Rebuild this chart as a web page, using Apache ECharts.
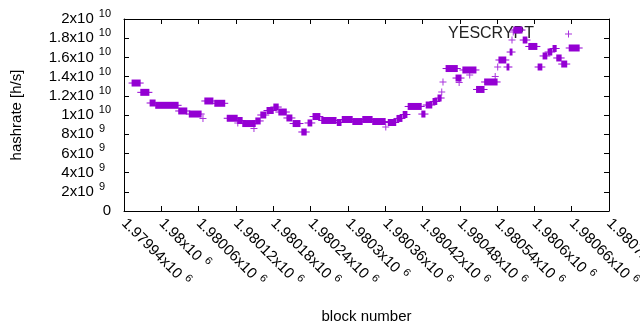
<!DOCTYPE html>
<html>
<head>
<meta charset="utf-8">
<script src="https://cdn.jsdelivr.net/npm/echarts@6/dist/echarts.min.js"></script>
<style>
  html, body { margin: 0; padding: 0; background: #fff; }
  #chart { width: 640px; height: 330px; }
</style>
</head>
<body>
<div id="chart"></div>
<script>
// tick labels (mantissa ^ exponent)
const xTickLabels = ['1.97994x10^6', '1.98x10^6', '1.98006x10^6', '1.98012x10^6', '1.98018x10^6',
  '1.98024x10^6', '1.9803x10^6', '1.98036x10^6', '1.98042x10^6', '1.98048x10^6',
  '1.98054x10^6', '1.9806x10^6', '1.98066x10^6', '1.98072x10^6']
const yTickLabels = ['0', '2x10^9', '4x10^9', '6x10^9', '8x10^9', '1x10^10',
  '1.2x10^10', '1.4x10^10', '1.6x10^10', '1.8x10^10', '2x10^10']

const seriesName = 'YESCRYPT'

// runs of consecutive blocks with the same hashrate
const runStart = [1979953, 1979967, 1979982, 1979991, 1980028, 1980045, 1980070, 1980086, 1980106, 1980123,
  1980131, 1980152, 1980160, 1980170, 1980181, 1980189, 1980202, 1980212, 1980226, 1980236,
  1980244, 1980258, 1980283, 1980291, 1980308, 1980324, 1980340, 1980365, 1980379, 1980389,
  1980397, 1980419, 1980426, 1980437, 1980445, 1980458, 1980474, 1980485, 1980507, 1980520,
  1980543, 1980556, 1980561, 1980567, 1980582, 1980591, 1980606, 1980614, 1980622, 1980630,
  1980636, 1980644, 1980656]
const runEnd = [1979966, 1979980, 1979990, 1980027, 1980041, 1980064, 1980083, 1980102, 1980122, 1980130,
  1980151, 1980159, 1980168, 1980180, 1980188, 1980201, 1980210, 1980223, 1980233, 1980242,
  1980255, 1980281, 1980289, 1980307, 1980323, 1980339, 1980360, 1980377, 1980387, 1980395,
  1980418, 1980424, 1980435, 1980443, 1980450, 1980476, 1980482, 1980506, 1980519, 1980540,
  1980554, 1980559, 1980564, 1980580, 1980588, 1980604, 1980612, 1980620, 1980628, 1980635,
  1980643, 1980652, 1980672]
const runHash = [13.33e9, 12.36e9, 11.25e9, 11.01e9, 10.42e9, 10.10e9, 11.46e9, 11.22e9, 9.66e9, 9.43e9,
  9.11e9, 9.38e9, 10.00e9, 10.47e9, 10.83e9, 10.31e9, 9.69e9, 9.11e9, 8.23e9, 9.17e9,
  9.84e9, 9.43e9, 9.22e9, 9.53e9, 9.32e9, 9.53e9, 9.32e9, 9.22e9, 9.64e9, 10.05e9,
  10.89e9, 10.10e9, 11.04e9, 11.41e9, 11.77e9, 14.84e9, 13.85e9, 14.69e9, 12.66e9, 13.44e9,
  15.73e9, 15.00e9, 16.56e9, 18.85e9, 17.81e9, 17.14e9, 15.00e9, 16.15e9, 16.56e9, 16.93e9,
  15.94e9, 15.31e9, 16.98e9]

// isolated blocks
const singleBlock = [1980067, 1980123, 1980149, 1980361, 1980451, 1980453, 1980479, 1980496,
  1980537, 1980541, 1980564, 1980566]
const singleHash = [9.64e9, 9.17e9, 8.59e9, 8.75e9, 12.40e9, 13.44e9, 13.39e9, 14.17e9,
  14.01e9, 15.00e9, 17.81e9, 18.65e9]

const xMin = 1979940, xMax = 1980720, xStep = 60
const yMin = 0, yMax = 2e10, yStep = 2e9

const color = '#9400d3'
const font = 'Liberation Sans'
const plusPath = 'path://M3,0h1v3h3v1h-3v3h-1v-3h-3v-1h3z'

const chart = echarts.init(document.getElementById('chart'))

// mantissa/exponent -> rich text
const richLabel = (txt) => {
  const parts = txt.split('^')
  if (parts.length < 2) return '{m|' + parts[0] + '}'
  const st = parts[1].length === 1 ? 'e1' : 'e'
  return '{m|' + parts[0] + '}{' + st + '|' + parts[1] + '}'
}
const rich = {
  m: { fontSize: 15, fontFamily: font, color: '#000', lineHeight: 21 },
  e: { fontSize: 11, fontFamily: font, color: '#000', lineHeight: 11, verticalAlign: 'top', padding: [0, 0, 0, 5] },
  e1: { fontSize: 11, fontFamily: font, color: '#000', lineHeight: 11, verticalAlign: 'top', padding: [0, 6, 0, 5] }
}

const axisCommon = {
  axisLine: { show: true, onZero: false, lineStyle: { color: '#000', width: 1 } },
  axisTick: { show: true, inside: true, length: 5, lineStyle: { color: '#000' } },
  splitLine: { show: false }
}

const runData = runStart.map((s, i) => [s, runEnd[i], runHash[i]])
const singleData = singleBlock.map((b, i) => [b, singleHash[i]])

const option = {
  animation: false,
  backgroundColor: '#fff',
  color: [color],
  grid: { left: 124, right: 31, top: 19, bottom: 119, containLabel: false, outerBoundsMode: 'none' },
  legend: {
    z: 1,
    right: 63,
    top: 21,
    align: 'right',
    itemWidth: 7,
    itemHeight: 7,
    itemStyle: { color: color },
    data: [{ name: seriesName, icon: plusPath, itemStyle: { color: color } }],
    textStyle: { fontSize: 16, fontFamily: font, color: '#222', padding: [0, 26, 0, 0] }
  },
  xAxis: [{
    type: 'value', min: xMin, max: xMax, interval: xStep,
    ...axisCommon,
    name: 'block number',
    nameLocation: 'middle',
    nameGap: 98,
    nameTextStyle: { fontSize: 15, fontFamily: font, color: '#000' },
    axisLabel: {
      rotate: -45,
      margin: 10,
      hideOverlap: false,
      formatter: (v) => richLabel(xTickLabels[Math.round((v - xMin) / xStep)] || ''),
      rich: rich
    }
  }, {
    type: 'value', min: xMin, max: xMax, interval: xStep, position: 'top',
    ...axisCommon,
    axisLabel: { show: false }
  }],
  yAxis: [{
    type: 'value', min: yMin, max: yMax, interval: yStep,
    ...axisCommon,
    name: 'hashrate [h/s]',
    nameLocation: 'middle',
    nameGap: 100,
    nameRotate: 90,
    nameTextStyle: { fontSize: 15, fontFamily: font, color: '#000' },
    axisLabel: {
      margin: 13,
      formatter: (v) => richLabel(yTickLabels[Math.round((v - yMin) / yStep)] || ''),
      rich: rich
    }
  }, {
    type: 'value', min: yMin, max: yMax, interval: yStep, position: 'right',
    ...axisCommon,
    axisLabel: { show: false }
  }],
  series: [{
    name: seriesName,
    type: 'scatter',
    z: 3,
    symbol: plusPath,
    symbolSize: 7,
    itemStyle: { color: color, borderWidth: 0 },
    data: singleData
  }, {
    name: seriesName,
    type: 'custom',
    z: 3,
    xAxisIndex: 0,
    yAxisIndex: 0,
    itemStyle: { color: color },
    encode: { x: [0, 1], y: 2 },
    data: runData,
    renderItem: (params, api) => {
      const a = api.coord([api.value(0), api.value(2)])
      const b = api.coord([api.value(1), api.value(2)])
      const c = api.visual('color')
      return {
        type: 'group',
        children: [
          { type: 'rect', shape: { x: a[0] - 0.5, y: a[1] - 3.5, width: b[0] - a[0] + 1, height: 7 }, style: { fill: c } },
          { type: 'rect', shape: { x: a[0] - 3.5, y: a[1] - 0.5, width: b[0] - a[0] + 7, height: 1 }, style: { fill: c } }
        ]
      }
    }
  }]
}

chart.setOption(option)
</script>
</body>
</html>
